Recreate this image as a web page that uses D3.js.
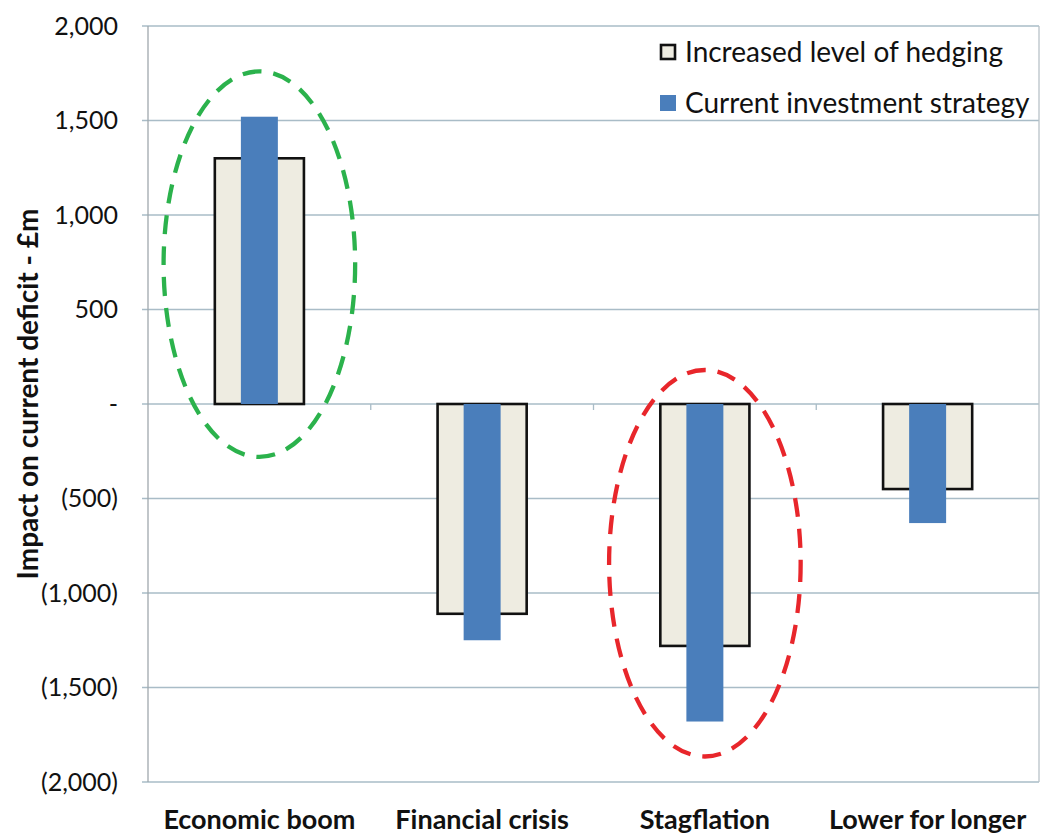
<!DOCTYPE html>
<html>
<head>
<meta charset="utf-8">
<script src="https://cdn.jsdelivr.net/npm/d3@7/dist/d3.min.js"></script>
<style>
  html, body { margin: 0; padding: 0; background: #fff; }
  svg { display: block; font-family: Lato, "Open Sans", sans-serif; }
</style>
</head>
<body>
<svg id="chart" width="1043" height="835"></svg>
<script>
// Scenario outcomes, £m impact on current deficit
const categories = ["Economic boom", "Financial crisis", "Stagflation", "Lower for longer"];
const hedgingValues = [1300, -1110, -1280, -450];
const currentValues = [1520, -1250, -1680, -630];
const seriesNames = ["Increased level of hedging", "Current investment strategy"];
const yTicks = [2000, 1500, 1000, 500, 0, -500, -1000, -1500, -2000];
const yTickLabels = ["2,000", "1,500", "1,000", "500", "-", "(500)", "(1,000)", "(1,500)", "(2,000)"];
// Highlighted scenarios: category with the value span the ring encloses
const highlights = [
  { category: "Economic boom", top: 1760, bottom: -280, color: "#2bb24c" },
  { category: "Stagflation", top: 180, bottom: -1865, color: "#e8262b" }
];

const svg = d3.select("#chart");
const plot = { left: 148, right: 1039, top: 26, bottom: 782 };

const x = d3.scaleBand().domain(categories).range([plot.left, plot.right]).padding(0);
const y = d3.scaleLinear().domain([-2000, 2000]).range([plot.bottom, plot.top]);

const gridColor = "#a9bcc7";

// horizontal gridlines
svg.append("g").selectAll("line").data(yTicks).join("line")
  .attr("x1", plot.left - 6).attr("x2", plot.right)
  .attr("y1", d => y(d)).attr("y2", d => y(d))
  .attr("stroke", gridColor).attr("stroke-width", 1.3);

// plot frame sides
svg.append("line").attr("x1", plot.left).attr("x2", plot.left)
  .attr("y1", plot.top).attr("y2", plot.bottom).attr("stroke", "#a0a8ad").attr("stroke-width", 1.3);
svg.append("line").attr("x1", plot.right).attr("x2", plot.right)
  .attr("y1", plot.top).attr("y2", plot.bottom).attr("stroke", "#b8c2c8").attr("stroke-width", 1.3);

// category boundary ticks on the zero line
svg.append("g").selectAll("line").data(categories.slice(1)).join("line")
  .attr("x1", d => x(d)).attr("x2", d => x(d))
  .attr("y1", y(0)).attr("y2", y(0) + 6)
  .attr("stroke", gridColor).attr("stroke-width", 1.3);

// y tick labels
svg.append("g").selectAll("text").data(yTicks).join("text")
  .attr("x", 118).attr("y", d => y(d))
  .attr("dy", "0.35em")
  .attr("text-anchor", "end")
  .attr("font-size", 25)
  .attr("fill", "#111")
  .text((d, i) => yTickLabels[i]);

// y axis title
svg.append("text")
  .attr("transform", `translate(38, 394) rotate(-90)`)
  .attr("text-anchor", "middle")
  .attr("font-size", 28)
  .attr("font-weight", "bold")
  .attr("fill", "#111")
  .text("Impact on current deficit - £m");

// category labels
svg.append("g").selectAll("text").data(categories).join("text")
  .attr("x", d => x(d) + x.bandwidth() / 2)
  .attr("y", 829)
  .attr("text-anchor", "middle")
  .attr("font-size", 27)
  .attr("font-weight", "bold")
  .attr("fill", "#111")
  .text(d => d);

const wideW = x.bandwidth() * 0.4;
const narrowW = x.bandwidth() * 0.166;

// hedging bars (outlined)
svg.append("g").selectAll("rect").data(categories).join("rect")
  .attr("x", d => x(d) + (x.bandwidth() - wideW) / 2)
  .attr("width", wideW)
  .attr("y", (d, i) => y(Math.max(0, hedgingValues[i])))
  .attr("height", (d, i) => Math.abs(y(hedgingValues[i]) - y(0)))
  .attr("fill", "#eeece1")
  .attr("stroke", "#111")
  .attr("stroke-width", 2.6);

// current strategy bars
svg.append("g").selectAll("rect").data(categories).join("rect")
  .attr("x", d => x(d) + (x.bandwidth() - narrowW) / 2)
  .attr("width", narrowW)
  .attr("y", (d, i) => y(Math.max(0, currentValues[i])))
  .attr("height", (d, i) => Math.abs(y(currentValues[i]) - y(0)))
  .attr("fill", "#4a7ebb");

// dashed highlight rings
svg.append("g").selectAll("ellipse").data(highlights).join("ellipse")
  .attr("cx", d => x(d.category) + x.bandwidth() / 2)
  .attr("cy", d => (y(d.top) + y(d.bottom)) / 2)
  .attr("rx", x.bandwidth() * 0.43)
  .attr("ry", d => (y(d.bottom) - y(d.top)) / 2)
  .attr("fill", "none")
  .attr("stroke", d => d.color)
  .attr("stroke-width", 4.3)
  .attr("stroke-dasharray", "19 12");

// legend
const legend = svg.append("g").attr("transform", "translate(660, 0)");
const legendRows = legend.selectAll("g").data(seriesNames).join("g")
  .attr("transform", (d, i) => `translate(0, ${52 + i * 51})`);
legendRows.append("rect")
  .attr("x", (d, i) => i === 0 ? 1 : 0)
  .attr("y", (d, i) => i === 0 ? -7 : -8)
  .attr("width", (d, i) => i === 0 ? 14 : 16)
  .attr("height", (d, i) => i === 0 ? 14 : 16)
  .attr("fill", (d, i) => i === 0 ? "#eeece1" : "#4a7ebb")
  .attr("stroke", (d, i) => i === 0 ? "#111" : "none")
  .attr("stroke-width", 2.6);
legendRows.append("text")
  .attr("x", 25)
  .attr("dy", "0.35em")
  .attr("font-size", 28)
  .attr("fill", "#111")
  .text(d => d);
</script>
</body>
</html>
